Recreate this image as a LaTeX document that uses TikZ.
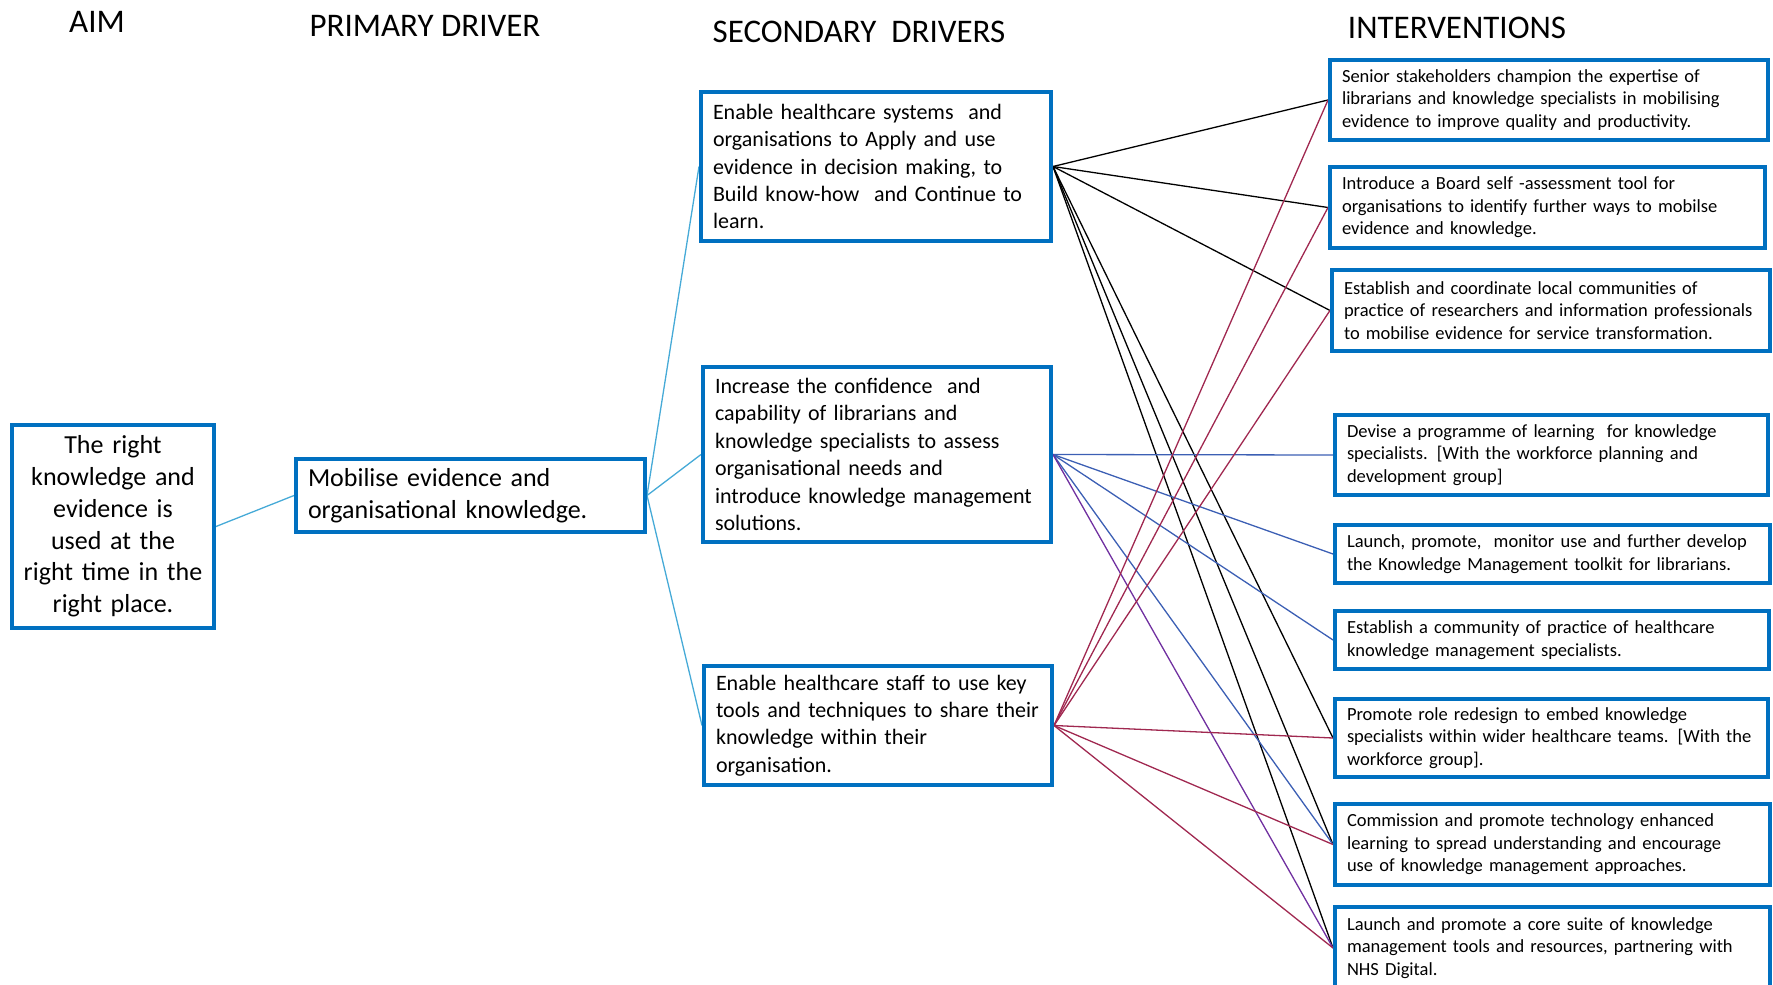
\documentclass[tikz,border=0pt]{standalone}
\usepackage{fontspec}
\setmainfont{Carlito}
\usetikzlibrary{backgrounds}
\definecolor{boxblue}{RGB}{0,112,192}
\definecolor{lightline}{RGB}{70,170,215}
\definecolor{blueline}{RGB}{60,95,180}
\definecolor{purpleline}{RGB}{112,48,160}
\definecolor{maroonline}{RGB}{160,40,80}
\begin{document}
\begin{tikzpicture}[x=1pt,y=-1pt,
  box/.style={draw=boxblue,line width=4pt,inner xsep=12pt,inner ysep=0pt,anchor=center},
  ibox/.style={box,font=\fontsize{18.5}{22.6}\selectfont,align=left},
  sbox/.style={box,font=\fontsize{22}{27.4}\selectfont,align=left},
  bigbox/.style={box,font=\fontsize{26}{31.8}\selectfont},
  head/.style={font=\fontsize{33}{36}\selectfont,inner sep=0pt,anchor=center},
  conn/.style={line width=1.3pt},
  lb/.style={conn,draw=lightline},
  blk/.style={conn,draw=black},
  blu/.style={conn,draw=blueline},
  pur/.style={conn,draw=purpleline},
  mar/.style={conn,draw=maroonline}]
\useasboundingbox (0,0) rectangle (1773,985);

% headings
\node[head] (hAim) at (97,21.5) {AIM};
\node[head] (hPri) at (425,25.5) {PRIMARY DRIVER};
\node[head] (hSec) at (859,32) {SECONDARY\ \ DRIVERS};
\node[head] (hInt) at (1457,28) {INTERVENTIONS};

% aim & primary
\node[bigbox,align=center,inner xsep=3pt,minimum width=202pt,minimum height=203pt,text width=196pt] (aim) at (113,526.5)
 {The right\\knowledge and\\evidence is\\used at the\\right time in the\\right place.};
\node[bigbox,align=left,minimum width=349pt,minimum height=73pt,text width=325pt] (pri) at (470.5,495.5)
 {Mobilise evidence and\\organisational knowledge.};

% secondary drivers
\node[sbox,minimum width=350pt,minimum height=149pt,text width=326pt] (s1) at (876,166.5)
 {Enable healthcare systems\ \ and\\organisations to Apply and use\\evidence in decision making, to\\Build know-how\ \ and Continue to\\learn.};
\node[sbox,minimum width=348pt,minimum height=175pt,text width=324pt] (s2) at (877,454.5)
 {Increase the confidence\ \ and\\capability of librarians and\\knowledge specialists to assess\\organisational needs and\\introduce knowledge management\\solutions.};
\node[sbox,minimum width=348pt,minimum height=119pt,text width=324pt] (s3) at (878,725.5)
 {Enable healthcare staff to use key\\tools and techniques to share their\\knowledge within their\\organisation.};

% interventions
\node[ibox,minimum width=438pt,minimum height=80pt,text width=414pt] (i1) at (1549,100)
 {Senior stakeholders champion the expertise of\\librarians and knowledge specialists in mobilising\\evidence to improve quality and productivity.};
\node[ibox,minimum width=435pt,minimum height=81pt,text width=411pt] (i2) at (1547.5,207.5)
 {Introduce a Board self -assessment tool for\\organisations to identify further ways to mobilse\\evidence and knowledge.};
\node[ibox,minimum width=438pt,minimum height=81pt,text width=414pt] (i3) at (1551,310.5)
 {Establish and coordinate local communities of\\practice of researchers and information professionals\\to mobilise evidence for service transformation.};
\node[ibox,minimum width=433pt,minimum height=80pt,text width=409pt] (i4) at (1551.5,455)
 {Devise a programme of learning\ \ for knowledge\\specialists. [With the workforce planning and\\development group]};
\node[ibox,minimum width=435pt,minimum height=58pt,text width=411pt] (i5) at (1552.5,554)
 {Launch, promote,\ \ monitor use and further develop\\the Knowledge Management toolkit for librarians.};
\node[ibox,minimum width=434pt,minimum height=58pt,text width=410pt] (i6) at (1552,640)
 {Establish a community of practice of healthcare\\knowledge management specialists.};
\node[ibox,minimum width=433pt,minimum height=78pt,text width=409pt] (i7) at (1551.5,738)
 {Promote role redesign to embed knowledge\\specialists within wider healthcare teams. [With the\\workforce group].};
\node[ibox,minimum width=435pt,minimum height=81pt,text width=411pt] (i8) at (1552.5,844.5)
 {Commission and promote technology enhanced\\learning to spread understanding and encourage\\use of knowledge management approaches.};
\node[ibox,minimum width=435pt,minimum height=82pt,text width=411pt] (i9) at (1552.5,948)
 {Launch and promote a core suite of knowledge\\management tools and resources, partnering with\\NHS Digital.};

\begin{scope}[on background layer]
\draw[lb] (aim.east) -- (pri.west);
\draw[lb] (pri.east) -- (s1.west);
\draw[lb] (pri.east) -- (s2.west);
\draw[lb] (pri.east) -- (s3.west);
\foreach \t in {i1,i2,i3,i7,i8,i9} \draw[blk] (s1.east) -- (\t.west);
\foreach \t in {i4,i5,i6,i8} \draw[blu] (s2.east) -- (\t.west);
\draw[pur] (s2.east) -- (i9.west);
\foreach \t in {i1,i2,i3,i7,i8,i9} \draw[mar] (s3.east) -- (\t.west);
\end{scope}
\end{tikzpicture}
\end{document}
